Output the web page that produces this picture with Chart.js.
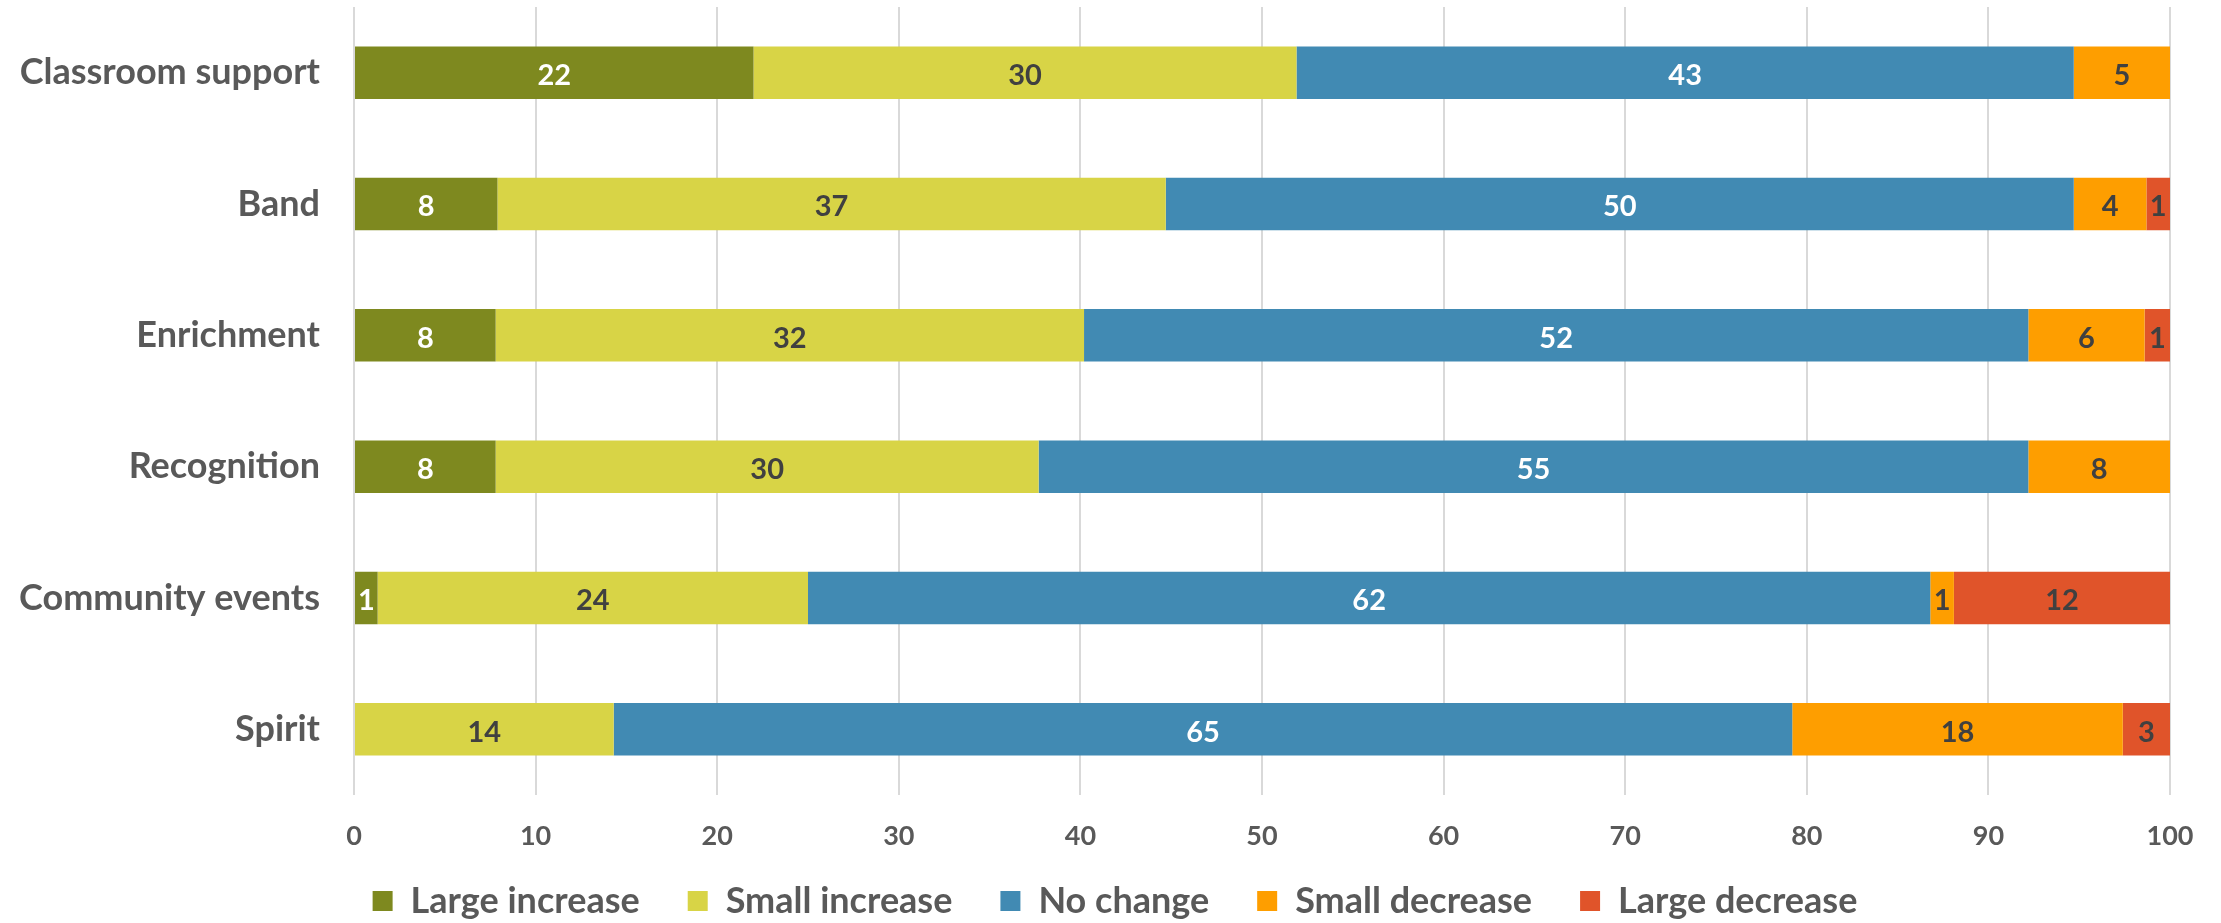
<!DOCTYPE html>
<html>
<head>
<meta charset="utf-8">
<script src="https://cdn.jsdelivr.net/npm/chart.js@4.4.1/dist/chart.umd.min.js"></script>
<style>
  html, body { margin: 0; padding: 0; background: #fff; }
  #wrap { width: 2221px; height: 923px; position: relative; }
</style>
</head>
<body>
<div id="wrap"><canvas id="my-chart" width="2221" height="923"></canvas></div>
<script>
// categories, top to bottom
const programs = ['Classroom support', 'Band', 'Enrichment', 'Recognition', 'Community events', 'Spirit'];

// percentage of responses per answer
const largeIncrease = [22.0, 7.9, 7.8, 7.8, 1.3, 0];
const smallIncrease = [29.9, 36.8, 32.4, 29.9, 23.7, 14.3];
const noChange = [42.8, 50.0, 52.0, 54.5, 61.8, 64.9];
const smallDecrease = [5.3, 4.0, 6.4, 7.8, 1.3, 18.2];
const largeDecrease = [0, 1.3, 1.4, 0, 11.9, 2.6];

const xTicks = [0, 10, 20, 30, 40, 50, 60, 70, 80, 90, 100];

const textGrey = '#595959';
const fontFamily = 'Lato, "Open Sans", sans-serif';

// draws the rounded value in the middle of each segment
const segmentLabels = {
  id: 'segmentLabels',
  afterDatasetsDraw(chart) {
    const ctx = chart.ctx;
    ctx.save();
    ctx.font = 'bold 29px ' + fontFamily;
    ctx.textAlign = 'center';
    ctx.textBaseline = 'middle';
    chart.data.datasets.forEach((ds, i) => {
      const meta = chart.getDatasetMeta(i);
      meta.data.forEach((bar, j) => {
        const v = ds.data[j];
        if (!v) return;
        const p = bar.getProps(['x', 'y', 'base'], true);
        ctx.fillStyle = ds.labelColor;
        ctx.fillText(Math.round(v), (p.x + p.base) / 2, p.y + 3);
      });
    });
    ctx.restore();
  }
};

const ctx = document.getElementById('my-chart').getContext('2d');
const chart = new Chart(ctx, {
  type: 'bar',
  data: {
    labels: programs,
    datasets: [
      { label: 'Large increase', data: largeIncrease, backgroundColor: '#7E891F', labelColor: '#ffffff' },
      { label: 'Small increase', data: smallIncrease, backgroundColor: '#D8D446', labelColor: '#404040' },
      { label: 'No change', data: noChange, backgroundColor: '#418AB3', labelColor: '#ffffff' },
      { label: 'Small decrease', data: smallDecrease, backgroundColor: '#FE9E00', labelColor: '#404040' },
      { label: 'Large decrease', data: largeDecrease, backgroundColor: '#E0542A', labelColor: '#404040' }
    ]
  },
  options: {
    indexAxis: 'y',
    responsive: false,
    devicePixelRatio: 1,
    animation: false,
    datasets: { bar: { barPercentage: 0.4, categoryPercentage: 1, borderWidth: 0 } },
    layout: { padding: { top: 7, right: 51, bottom: -6, left: 60 } },
    scales: {
      x: {
        stacked: true,
        min: 0,
        max: 100,
        afterBuildTicks: (scale) => { scale.ticks = xTicks.map(v => ({ value: v })); },
        grid: { color: '#d9d9d9', lineWidth: 2, drawTicks: false },
        border: { display: false },
        ticks: { color: textGrey, font: { family: fontFamily, size: 27, weight: 'bold' }, padding: 25 },
        afterFit: (scale) => {
          scale.height = 40;
          // labels sit a bit below the axis box, so don't clip them to it
          scale._computeLabelArea = () => null;
        }
      },
      y: {
        stacked: true,
        grid: { display: false, drawTicks: false },
        border: { display: false },
        ticks: { color: textGrey, font: { family: fontFamily, size: 36, weight: 'bold' }, padding: 34 },
        afterFit: (scale) => {
          scale.width = 294;
          scale.paddingTop = 0;
          scale.paddingBottom = 0;
          // long names reach into the left padding
          scale._computeLabelArea = () => null;
        }
      }
    },
    plugins: {
      legend: {
        position: 'bottom',
        labels: {
          color: textGrey,
          boxWidth: 20,
          boxHeight: 20,
          padding: 48,
          font: { family: fontFamily, size: 36, weight: 'bold' }
        }
      },
      tooltip: { enabled: false }
    }
  },
  plugins: [segmentLabels]
});
</script>
</body>
</html>
